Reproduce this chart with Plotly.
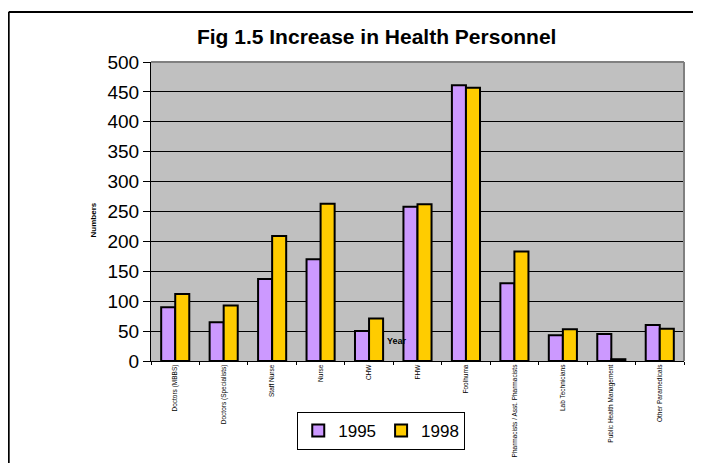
import plotly.graph_objs as go

categories = ["Doctors (MBBS)", "Doctors (Specialists)", "Staff Nurse", "Nurse", "CHW", "FHW",
              "Foolhuma", "Pharmacists / Asst. Pharmacists", "Lab Technicians",
              "Public Health Management", "Other Paramedicals"]
y1995 = [90, 65, 137, 170, 50, 258, 461, 130, 43, 45, 60]
y1998 = [112, 93, 209, 263, 71, 262, 457, 183, 53, 3, 54]
y_ticks = [0, 50, 100, 150, 200, 250, 300, 350, 400, 450, 500]

FONT = "Liberation Sans, Arial, sans-serif"

fig = go.Figure()
fig.add_trace(go.Bar(x=categories, y=y1995, name="1995",
                     marker=dict(color="#cc99ff", line=dict(color="black", width=2))))
fig.add_trace(go.Bar(x=categories, y=y1998, name="1998",
                     marker=dict(color="#ffcc00", line=dict(color="black", width=2))))

# page has an 8px body margin, so the figure is sized to fit inside the window
fig.update_layout(
    width=693, height=455,
    margin=dict(l=143, r=17, t=54, b=102, autoexpand=False),
    paper_bgcolor="white", plot_bgcolor="#c0c0c0",
    font=dict(family=FONT, color="black"),
    barmode="group", bargap=0.42, bargroupgap=0,
    title=dict(text="<b>Fig 1.5 Increase in Health Personnel</b>", x=0.532, xanchor="center",
               y=0.937, yanchor="middle", font=dict(size=21, family=FONT)),
    showlegend=True,
    legend=dict(orientation="h", x=0.432, xanchor="center", y=-0.17, yanchor="top",
                bordercolor="black", borderwidth=1, font=dict(size=17, family=FONT),
                itemwidth=30, itemsizing="constant", tracegroupgap=0),
)
fig.update_xaxes(tickangle=-90, tickfont=dict(size=6.5), ticks="outside", tickson="boundaries",
                 ticklen=3, tickcolor="black", showline=True, linecolor="black", linewidth=1,
                 showgrid=False, mirror=False, automargin=False)
fig.update_yaxes(range=[0, 500], tickvals=y_ticks, tickfont=dict(size=19), ticks="outside",
                 ticklen=7, tickcolor="black", showline=True, linecolor="black", linewidth=1,
                 gridcolor="black", gridwidth=1, zeroline=False, automargin=False)

# gray top/right border of the plot area
fig.add_shape(type="line", xref="paper", yref="paper", x0=1, x1=1, y0=0, y1=1,
              line=dict(color="#808080", width=2))
fig.add_shape(type="line", xref="paper", yref="paper", x0=0, x1=1, y0=1, y1=1,
              line=dict(color="#808080", width=2))
# outer chart border
fig.add_shape(type="line", xref="paper", yref="paper", x0=-0.267, x1=1.05, y0=1.167, y1=1.167,
              line=dict(color="black", width=2))
fig.add_shape(type="line", xref="paper", yref="paper", x0=-0.267, x1=-0.267, y0=1.167, y1=-0.4,
              line=dict(color="black", width=2))

fig.add_annotation(text="<b>Numbers</b>", xref="paper", yref="paper", x=-0.12, y=0.472,
                   textangle=-90, showarrow=False, font=dict(size=8))
fig.add_annotation(text="<b>Year</b>", xref="paper", yref="paper", x=0.462, y=0.045,
                   showarrow=False, font=dict(size=9))

fig.write_html("out.html")
